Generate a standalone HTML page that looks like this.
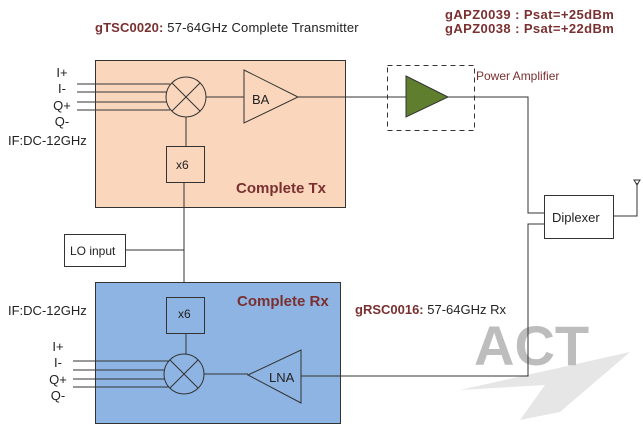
<!DOCTYPE html>
<html><head><style>
body{margin:0;background:#fff;}
svg text{font-family:"Liberation Sans",Arial,sans-serif;}
</style></head><body>
<svg width="643" height="435" viewBox="0 0 643 435" xmlns="http://www.w3.org/2000/svg">
<!-- watermark -->
<polygon points="460,390 630,352 560,412 520,420 545,385" fill="#e6e6e6"/>
<text x="474" y="365" font-size="56" font-weight="bold" fill="#bdbdbd">ACT</text>
<!-- titles -->
<text x="95" y="32" font-size="13" fill="#222" letter-spacing="0.15"><tspan fill="#7a3030" font-weight="bold">gTSC0020:</tspan> 57-64GHz Complete Transmitter</text>
<text x="445" y="19" font-size="13" font-weight="bold" fill="#7a3030" letter-spacing="0.4">gAPZ0039 :  Psat=+25dBm</text>
<text x="445" y="33" font-size="13" font-weight="bold" fill="#7a3030" letter-spacing="0.4">gAPZ0038 :  Psat=+22dBm</text>
<text x="476" y="80" font-size="12" fill="#7a3030">Power Amplifier</text>
<text x="355" y="314" font-size="13" fill="#222"><tspan fill="#7a3030" font-weight="bold">gRSC0016:</tspan> 57-64GHz Rx</text>
<!-- Tx box -->
<rect x="95.5" y="60.5" width="250" height="147" fill="#fad7bc" stroke="#333"/>
<g stroke="#333" fill="none">
<line x1="77" y1="84" x2="170" y2="84"/><line x1="77" y1="92" x2="167" y2="92"/>
<line x1="77" y1="102" x2="167" y2="102"/><line x1="77" y1="110" x2="170" y2="110"/>
<circle cx="186" cy="97" r="20" fill="#fad7bc"/>
<line x1="172" y1="83" x2="200" y2="111"/><line x1="200" y1="83" x2="172" y2="111"/>
<line x1="206" y1="97" x2="244" y2="97"/>
<polygon points="244,70 298,97 244,123" fill="#fad7bc"/>
<line x1="186" y1="117" x2="186" y2="146"/>
<rect x="166.5" y="146.5" width="38" height="36" fill="#fad7bc"/>
<line x1="184" y1="182" x2="184" y2="297"/>
<rect x="64.5" y="234.5" width="61" height="32" fill="#fff"/>
<line x1="125" y1="250" x2="184" y2="250"/>
</g>
<text x="236" y="193" font-size="15" font-weight="bold" fill="#7a3030">Complete Tx</text>
<text x="252" y="104" font-size="13" fill="#222">BA</text>
<text x="176" y="169" font-size="12" fill="#222">x6</text>
<text x="70" y="255" font-size="12" fill="#222">LO input</text>
<g font-size="13" fill="#222" text-anchor="middle">
<text x="62" y="77">I+</text><text x="62" y="93">I-</text><text x="62" y="110">Q+</text><text x="62" y="126">Q-</text>
</g>
<text x="8" y="145" font-size="13" fill="#222">IF:DC-12GHz</text>
<!-- Rx box -->
<rect x="95.5" y="282.5" width="245" height="141" fill="#8db4e2" stroke="#333"/>
<g stroke="#333" fill="none">
<rect x="166.5" y="297.5" width="38" height="36" fill="#8db4e2"/>
<line x1="186" y1="333" x2="186" y2="354"/>
<line x1="73" y1="361" x2="170" y2="361"/><line x1="73" y1="370" x2="166" y2="370"/>
<line x1="73" y1="379" x2="166" y2="379"/><line x1="73" y1="387" x2="170" y2="387"/>
<circle cx="184" cy="374" r="20" fill="#8db4e2"/>
<line x1="170" y1="360" x2="198" y2="388"/><line x1="198" y1="360" x2="170" y2="388"/>
<line x1="204" y1="374" x2="248" y2="374"/>
<polygon points="248,375 301,350 301,403" fill="#8db4e2"/>
<polyline points="301,376 528,376 528,224 544,224"/>
<polyline points="298,97 528,97 528,213 544,213"/>
<rect x="387.5" y="65.5" width="87" height="65" stroke-dasharray="5,4"/>
<polygon points="406,76 448,97 406,117" fill="#5f7f2f"/>
<rect x="544.5" y="195.5" width="69" height="43" fill="#fff"/>
<polyline points="613,216 637,216 637,183"/>
<polygon points="634,180 640,180 637,185"/>
</g>
<text x="237" y="306" font-size="15" font-weight="bold" fill="#7a3030">Complete Rx</text>
<text x="178" y="318" font-size="12" fill="#222">x6</text>
<text x="269" y="382" font-size="13" fill="#222">LNA</text>
<text x="552" y="222" font-size="13" fill="#222">Diplexer</text>
<g font-size="13" fill="#222" text-anchor="middle">
<text x="58" y="351">I+</text><text x="58" y="367">I-</text><text x="58" y="384">Q+</text><text x="58" y="400">Q-</text>
</g>
<text x="8" y="315" font-size="13" fill="#222">IF:DC-12GHz</text>
</svg>
</body></html>
